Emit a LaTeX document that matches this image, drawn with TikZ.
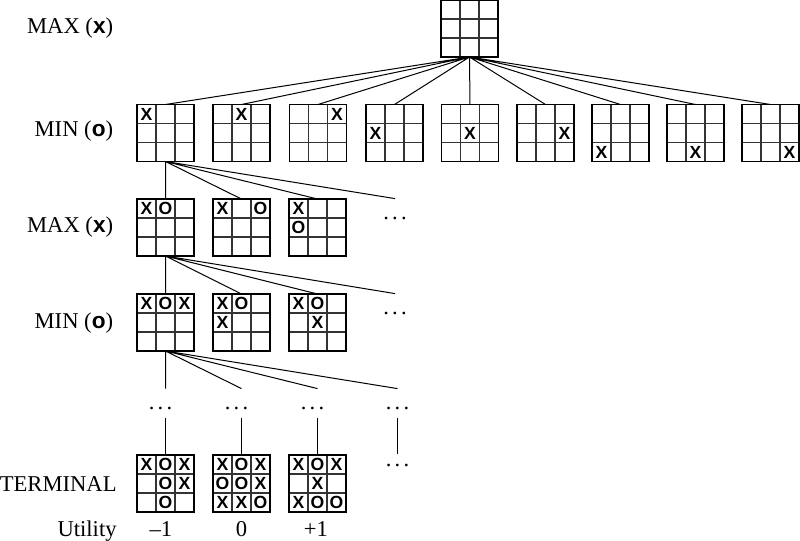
\documentclass[tikz,border=0pt]{standalone}
\usepackage{fontspec}
\setmainfont{Liberation Serif}
\newfontfamily\fichas{Liberation Sans}

\tikzset{
  rejilla/.style={line width=0.7pt, black!80},
  tablero/.style={draw, line width=0.75pt, minimum size=28.5pt, inner sep=0pt, outer sep=0pt,
    path picture={
      \draw[rejilla] (path picture bounding box.north west) ++(9.5pt,0) -- ++(0,-28.5pt)
                     ++(9.5pt,0) -- ++(0,28.5pt);
      \draw[rejilla] (path picture bounding box.north west) ++(0,-9.5pt) -- ++(28.5pt,0)
                     ++(0,-9.5pt) -- ++(-28.5pt,0);
    }},
  ficha/.style={inner sep=0pt, font=\fichas\bfseries\fontsize{8.8}{8.8}\selectfont},
  etiqueta/.style={anchor=east, inner sep=0pt, font=\fontsize{11.3}{13.5}\selectfont},
  valor/.style={anchor=base, inner sep=0pt, font=\fontsize{11.3}{13.5}\selectfont},
  puntos/.style={anchor=base, inner sep=0pt, text height=10pt, text depth=4.5pt,
    font=\fontsize{11.3}{13.5}\selectfont},
  conector/.style={line width=0.5pt},
}

% puntos suspensivos espaciados
\newcommand{\susp}{.\kern1.6pt.\kern1.6pt.}

% tablero: nombre, posicion, nueve casillas por filas (. = vacia)
\newcommand{\tablero}[3]{%
  \node[tablero] (#1) at (#2) {};
  \foreach \m [count=\i from 0] in {#3}{%
    \pgfmathtruncatemacro{\fila}{floor(\i/3)}%
    \pgfmathtruncatemacro{\col}{mod(\i,3)}%
    \if\m.\else
      \node[ficha] at ([xshift=\col*9.5pt+4.75pt, yshift=-\fila*9.5pt-4.75pt]#1.north west) {\m};
    \fi
  }%
}

\begin{document}
\begin{tikzpicture}[x=0.5pt, y=-0.5pt]
    \useasboundingbox (0,0) rectangle (800,541);

    % Paso 1: tablero vacio de la raiz
    \tablero{raiz}{469.5,28.5}{.,.,.,.,.,.,.,.,.}

    % Paso 2: primer nivel, las nueve jugadas de X
    \tablero{m1}{165.5,133}{X,.,.,.,.,.,.,.,.}
    \tablero{m2}{241.5,133}{.,X,.,.,.,.,.,.,.}
    \tablero{m3}{318,133}{.,.,X,.,.,.,.,.,.}
    \tablero{m4}{394.5,133}{.,.,.,X,.,.,.,.,.}
    \tablero{m5}{470,133}{.,.,.,.,X,.,.,.,.}
    \tablero{m6}{545.5,133}{.,.,.,.,.,X,.,.,.}
    \tablero{m7}{620.5,133}{.,.,.,.,.,.,X,.,.}
    \tablero{m8}{695.5,133}{.,.,.,.,.,.,.,X,.}
    \tablero{m9}{770.5,133}{.,.,.,.,.,.,.,.,X}

    % Paso 3: segundo nivel, respuestas de O
    \tablero{x1}{165.5,227.5}{X,O,.,.,.,.,.,.,.}
    \tablero{x2}{241.5,227.5}{X,.,O,.,.,.,.,.,.}
    \tablero{x3}{317.5,227.5}{X,.,.,O,.,.,.,.,.}
    \node[puntos] (px) at (395,219) {\susp};

    % Paso 4: tercer nivel
    \tablero{n1}{165.5,322.5}{X,O,X,.,.,.,.,.,.}
    \tablero{n2}{241.5,322.5}{X,O,.,X,.,.,.,.,.}
    \tablero{n3}{317.5,322.5}{X,O,.,.,X,.,.,.,.}
    \node[puntos] (pn) at (395,314) {\susp};

    % Paso 5: puntos suspensivos y tableros terminales
    \node[puntos] (q1) at (165.5,409) {\susp\kern5pt};
    \node[puntos] (q2) at (241.5,409) {\susp\kern5pt};
    \node[puntos] (q3) at (317.5,409) {\susp\kern5pt};
    \node[puntos] (q4) at (397.5,409) {\susp};
    \node[puntos, text height=6pt] (q5) at (397.5,466) {\susp};
    \tablero{t1}{165.5,483.5}{X,O,X,.,O,X,.,O,.}
    \tablero{t2}{241.5,483.5}{X,O,X,O,O,X,X,X,O}
    \tablero{t3}{317.5,483.5}{X,O,X,.,X,.,X,O,O}

    % Paso 6: aristas del arbol
    \draw[conector] (raiz.south) -- (m1.north) (raiz.south) -- (m2.north)
        (raiz.south) -- (m3.north) (raiz.south) -- (m4.north)
        (raiz.south) -- (m5.north) (raiz.south) -- (m6.north)
        (raiz.south) -- (m7.north) (raiz.south) -- (m8.north)
        (raiz.south) -- (m9.north);
    \draw[conector] (m1.south) -- (x1.north) (m1.south) -- (x2.north)
        (m1.south) -- (x3.north) (m1.south) -- (px.north);
    \draw[conector] (x1.south) -- (n1.north) (x1.south) -- (n2.north)
        (x1.south) -- (n3.north) (x1.south) -- (pn.north);
    \draw[conector] (n1.south) -- (q1.north) (n1.south) -- (q2.north)
        (n1.south) -- (q3.north) (n1.south) -- (q4.north);
    \draw[conector] (q1.south) -- (t1.north) (q2.south) -- (t2.north)
        (q3.south) -- (t3.north) (q4.south) -- (q5.north);

    % Paso 7: etiquetas de los niveles y utilidades
    \node[etiqueta] (lmax1) at (113.5,28.5) {MAX ({\fichas\bfseries x})};
    \node[etiqueta] (lmin1) at (113.5,131) {MIN ({\fichas\bfseries o})};
    \node[etiqueta] (lmax2) at (113.5,227.5) {MAX ({\fichas\bfseries x})};
    \node[etiqueta] (lmin2) at (113.5,323) {MIN ({\fichas\bfseries o})};
    \node[etiqueta] (lterm) at (117,484) {TERMINAL};
    \node[etiqueta, anchor=base east] (lutil) at (117,536) {Utility};
    \node[valor] (u1) at (161,536) {\textendash1};
    \node[valor] (u2) at (241.5,536) {0};
    \node[valor] (u3) at (316,536) {+1};
\end{tikzpicture}
\end{document}
